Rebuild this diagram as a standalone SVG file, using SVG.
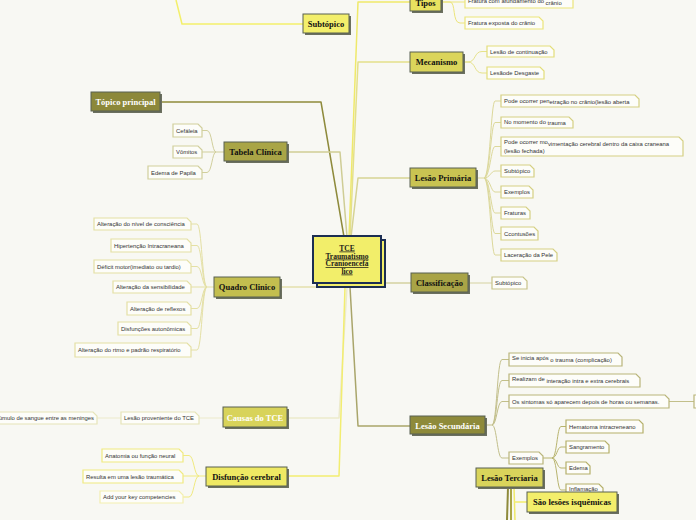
<svg xmlns="http://www.w3.org/2000/svg" width="696" height="520" viewBox="0 0 696 520">
<style>
.bg{fill:#f8f8f3}
.c{fill:none;stroke-width:1.5;stroke-linejoin:round}
.cs{fill:none;stroke-width:1}
.tb{stroke:#596052;stroke-width:1}
.sh{fill:#6c705f}
.tt{font-family:"Liberation Serif",serif;font-weight:bold;font-size:8.5px;text-anchor:middle;fill:#111}
.tw{fill:#fff}
.sb{fill:#fdfdf9;stroke-width:1.2}
.st{font-family:"Liberation Sans",Arial,sans-serif;font-size:5.9px;fill:#333}
.ct{font-family:"Liberation Serif",serif;font-weight:bold;font-size:7.5px;text-anchor:middle;fill:#1a1a1a;text-decoration:underline}
</style>
<rect class="bg" x="0" y="0" width="696" height="520"/>

<g id="connectors">
  <path class="c" d="M349,237 L358,2 L410,2" stroke="#efe96a"/>
  <path class="c" d="M350,237 L358,62 L410,62" stroke="#e4e08a"/>
  <path class="c" d="M351,237 L358,178 L410,178" stroke="#d6d394"/>
  <path class="c" d="M160,102 L321,102 L344,237" stroke="#8e8a3b"/>
  <path class="c" d="M287,152 L340,152 L347,237" stroke="#cfcd95"/>
  <path class="c" d="M280,287 L317,287" stroke="#e4e1ac"/>
  <path class="c" d="M385,283 L411,283" stroke="#d5d2a0"/>
  <path class="c" d="M350,287 L358,426 L410,426" stroke="#a9a56a"/>
  <path class="c" d="M347,287 L339,418 L287,418" stroke="#eceacb"/>
  <path class="c" d="M345,287 L339,476 L287,476" stroke="#f2ed70"/>
  <path class="c" d="M303,24 L182,24 L176,0" stroke="#f3ef6b"/>
  <path d="M508,487 L507,520" stroke="#8e8a3b" stroke-width="2" fill="none"/>
  <path d="M511,487 L511,520" stroke="#a9a546" stroke-width="2" fill="none"/>
  <path d="M514,487 L515,520" stroke="#efe96a" stroke-width="1.5" fill="none"/>
  <path d="M514,502 L527,502" stroke="#f3ee6b" stroke-width="1.5" fill="none"/>
  <g stroke="#ece57a" class="cs">
    <path d="M441,2 H465"/>
    <path d="M441,2 H450 C456,2 452,23 460,23 H465"/>
  </g>
  <g stroke="#e6e28a" class="cs">
    <path d="M463,62 H468 C476,62 474,51.5 482,51.5 H487"/>
    <path d="M463,62 H468 C476,62 474,73 482,73 H487"/>
  </g>
  <g stroke="#dcd89a" class="cs">
    <path d="M476,178 H484 C490,178 491,101 495,101 H501"/>
    <path d="M484,178 C490,178 491,122.5 495,122.5 H501"/>
    <path d="M484,178 C490,178 491,146.5 495,146.5 H501"/>
    <path d="M484,178 C490,178 491,171 495,171 H501"/>
    <path d="M484,178 C490,178 491,192 495,192 H501"/>
    <path d="M484,178 C490,178 491,213 495,213 H501"/>
    <path d="M484,178 C490,178 491,233.5 495,233.5 H501"/>
    <path d="M484,178 C490,178 491,255 495,255 H501"/>
  </g>
  <path class="cs" d="M468,283 H492" stroke="#d5d2a0"/>
  <g stroke="#c2bf8a" class="cs">
    <path d="M485,425 H492 C497,425 497,359.5 502,359.5 H509"/>
    <path d="M492,425 C497,425 497,380.5 502,380.5 H509"/>
    <path d="M492,425 C497,425 497,401.5 502,401.5 H509"/>
    <path d="M492,425 C497,425 497,458 502,458 H509"/>
    <path d="M669,401.5 H694"/>
  </g>
  <g stroke="#b8b46e" class="cs">
    <path d="M543,458 H552 C557,458 557,426.5 561,426.5 H566"/>
    <path d="M552,458 C557,458 557,447 561,447 H566"/>
    <path d="M552,458 C557,458 557,468 561,468 H566"/>
    <path d="M552,458 C557,458 557,490 561,490 H566"/>
  </g>
  <g stroke="#d1cf9c" class="cs">
    <path d="M224,152 H216 C212,152 212,130.5 207,130.5 H202"/>
    <path d="M216,152 H202"/>
    <path d="M216,152 C212,152 212,172.5 207,172.5 H202"/>
  </g>
  <g stroke="#e4e0a4" class="cs">
    <path d="M214,287 H207 C202,287 202,224 197,224 H191"/>
    <path d="M207,287 C202,287 202,245.5 197,245.5 H191"/>
    <path d="M207,287 C202,287 202,266.5 197,266.5 H191"/>
    <path d="M207,287 H191"/>
    <path d="M207,287 C202,287 202,308.5 197,308.5 H191"/>
    <path d="M207,287 C202,287 202,328.5 197,328.5 H191"/>
    <path d="M207,287 C202,287 202,350 197,350 H191"/>
  </g>
  <g stroke="#eceacb" class="cs">
    <path d="M223,418 H199"/>
    <path d="M121,418 H97"/>
  </g>
  <g stroke="#f0ea80" class="cs">
    <path d="M206,476 H199 C194,476 194,455.5 189,455.5 H183"/>
    <path d="M199,476 H183"/>
    <path d="M199,476 C194,476 194,497 189,497 H183"/>
  </g>
</g>

<g id="center">
  <rect x="317" y="240" width="68" height="47" fill="#f2ee6a" stroke="#1c2e52" stroke-width="2"/>
  <rect x="313" y="236" width="68" height="47" fill="#f2ee6a" stroke="#1c2e52" stroke-width="2"/>
  <text class="ct" x="347" y="250.5">TCE</text>
  <text class="ct" x="347" y="258.5">Traumatismo</text>
  <text class="ct" x="347" y="266">Cranioencefá</text>
  <text class="ct" x="347" y="273.5">lico</text>
</g>

<g id="n-subtopico-top"><rect class="sh" x="305" y="16" width="46" height="19"/><rect class="tb" x="303" y="14" width="46" height="19" fill="#f3ef6b"/><text class="tt" x="326" y="27">Subtópico</text></g>
<g id="n-tipos"><rect class="sh" x="412" y="-5" width="31" height="18"/><rect class="tb" x="410" y="-7" width="31" height="18" fill="#e8e25f"/><text class="tt" x="425.5" y="6">Tipos</text></g>
<g id="n-mecanismo"><rect class="sh" x="412" y="54" width="53" height="20"/><rect class="tb" x="410" y="52" width="53" height="20" fill="#dbd55b"/><text class="tt" x="436.5" y="65">Mecanismo</text></g>
<g id="n-lesao-primaria"><rect class="sh" x="412" y="170" width="66" height="19"/><rect class="tb" x="410" y="168" width="66" height="19" fill="#c9c352"/><text class="tt" x="443" y="181">Lesão Primária</text></g>
<g id="n-classificacao"><rect class="sh" x="413" y="275" width="57" height="19"/><rect class="tb" x="411" y="273" width="57" height="19" fill="#a9a446"/><text class="tt" x="439.5" y="286">Classificação</text></g>
<g id="n-lesao-secundaria"><rect class="sh" x="412" y="418" width="75" height="18"/><rect class="tb" x="410" y="416" width="75" height="18" fill="#8e8a3a"/><text class="tt tw" x="447.5" y="428.5">Lesão Secundária</text></g>
<g id="n-topico-principal"><rect class="sh" x="93" y="94" width="69" height="19"/><rect class="tb" x="91" y="92" width="69" height="19" fill="#8c883a"/><text class="tt tw" x="125.5" y="105">Tópico principal</text></g>
<g id="n-tabela"><rect class="sh" x="226" y="144" width="63" height="19"/><rect class="tb" x="224" y="142" width="63" height="19" fill="#a9a546"/><text class="tt" x="255.5" y="155">Tabela Clínica</text></g>
<g id="n-quadro"><rect class="sh" x="216" y="279" width="66" height="20"/><rect class="tb" x="214" y="277" width="66" height="20" fill="#c3be4f"/><text class="tt" x="247" y="290">Quadro Clinico</text></g>
<g id="n-causas"><rect class="sh" x="225" y="409" width="64" height="20"/><rect class="tb" x="223" y="407" width="64" height="20" fill="#d8d35a"/><text class="tt tw" x="255" y="420.5">Causas do TCE</text></g>
<g id="n-disfuncao"><rect class="sh" x="208" y="469" width="81" height="19"/><rect class="tb" x="206" y="467" width="81" height="19" fill="#efe963"/><text class="tt" x="246.5" y="480">Disfunção cerebral</text></g>

<g id="s-tipos-1"><path class="sb" stroke="#ece57a" d="M465,-5 H569 L573,-1 V8 H465 Z"/><text class="st" x="468" y="3">Fratura com afundamento do <tspan dy="2">crânio</tspan></text></g>
<g id="s-tipos-2"><path class="sb" stroke="#ece57a" d="M465,17 H539 L543,21 V29 H465 Z"/><text class="st" x="468" y="25">Fratura exposta do crânio</text></g>
<g id="s-mec-1"><path class="sb" stroke="#e3de7a" d="M487,46 H550 L554,50 V57 H487 Z"/><text class="st" x="490" y="53.5">Lesão de continuação</text></g>
<g id="s-mec-2"><path class="sb" stroke="#e3de7a" d="M487,67 H540 L544,71 V79 H487 Z"/><text class="st" x="490" y="75">Lesãode Desgaste</text></g>

<g id="s-lp-1"><path class="sb" stroke="#d5d083" d="M501,95 H635 L639,99 V107 H501 Z"/><text class="st" x="504" y="102.5">Pode ocorrer pen<tspan dy="1.5">etração no crânio(lesão aberta</tspan></text></g>
<g id="s-lp-2"><path class="sb" stroke="#d5d083" d="M501,117 H569 L573,121 V128 H501 Z"/><text class="st" x="504" y="123.5">No momento do <tspan dy="1.5">trauma</tspan></text></g>
<g id="s-lp-3"><path class="sb" stroke="#d5d083" d="M501,137 H679 L683,141 V156 H501 Z"/><text class="st" x="504" y="144">Pode ocorrer mo<tspan dy="1.5">vimentação cerebral dentro da caixa craneana</tspan></text><text class="st" x="504" y="152.5">(lesão fechada)</text></g>
<g id="s-lp-4"><path class="sb" stroke="#d5d083" d="M501,165 H530 L534,169 V177 H501 Z"/><text class="st" x="504" y="173">Subtópico</text></g>
<g id="s-lp-5"><path class="sb" stroke="#d5d083" d="M501,186 H529 L533,190 V198 H501 Z"/><text class="st" x="504" y="194">Exemplos</text></g>
<g id="s-lp-6"><path class="sb" stroke="#d5d083" d="M501,207 H526 L530,211 V219 H501 Z"/><text class="st" x="504" y="215">Fraturas</text></g>
<g id="s-lp-7"><path class="sb" stroke="#d5d083" d="M501,227 H534 L538,231 V240 H501 Z"/><text class="st" x="504" y="235.5">Ccontusões</text></g>
<g id="s-lp-8"><path class="sb" stroke="#d5d083" d="M501,249 H553 L557,253 V261 H501 Z"/><text class="st" x="504" y="257">Laceração da Pele</text></g>

<g id="s-class-1"><path class="sb" stroke="#c8c48a" d="M492,277 H523 L527,281 V289 H492 Z"/><text class="st" x="495" y="285">Subtópico</text></g>

<g id="s-ls-1"><path class="sb" stroke="#b9b57a" d="M509,353 H618 L622,357 V366 H509 Z"/><text class="st" x="512" y="360">Se inicia após <tspan dy="1.5">o trauma (complicação)</tspan></text></g>
<g id="s-ls-2"><path class="sb" stroke="#b9b57a" d="M509,374 H636 L640,378 V387 H509 Z"/><text class="st" x="512" y="381">Realizam de <tspan dy="1.5">interação intra e extra cerebrais</tspan></text></g>
<g id="s-ls-3"><path class="sb" stroke="#b9b57a" d="M509,395 H665 L669,399 V408 H509 Z"/><text class="st" x="512" y="403.5">Os sintomas só aparecem depois de horas ou semanas.</text></g>
<g id="s-ls-3a"><path class="sb" stroke="#b9b57a" d="M694,395 H730 L734,399 V408 H694 Z"/></g>
<g id="s-ls-4"><path class="sb" stroke="#b9b57a" d="M509,452 H539 L543,456 V464 H509 Z"/><text class="st" x="512" y="460">Exemplos</text></g>
<g id="s-ex-1"><path class="sb" stroke="#b5b06a" d="M566,420 H639 L643,424 V433 H566 Z"/><text class="st" x="569" y="428.5">Hematoma intracreneano</text></g>
<g id="s-ex-2"><path class="sb" stroke="#b5b06a" d="M566,441 H605 L609,445 V453 H566 Z"/><text class="st" x="569" y="449">Sangramento</text></g>
<g id="s-ex-3"><path class="sb" stroke="#b5b06a" d="M566,462 H586 L590,466 V474 H566 Z"/><text class="st" x="569" y="470">Edema</text></g>
<g id="s-ex-4"><path class="sb" stroke="#b5b06a" d="M566,484 H599 L603,488 V496 H566 Z"/><text class="st" x="569" y="491">Inflamação</text></g>

<g id="s-tab-1"><path class="sb" stroke="#d1cf9c" d="M173,124 H198 L202,128 V137 H173 Z"/><text class="st" x="176" y="132.5">Cefáleia</text></g>
<g id="s-tab-2"><path class="sb" stroke="#d1cf9c" d="M173,146 H198 L202,150 V158 H173 Z"/><text class="st" x="176" y="154">Vômitos</text></g>
<g id="s-tab-3"><path class="sb" stroke="#d1cf9c" d="M148,166 H198 L202,170 V179 H148 Z"/><text class="st" x="151" y="174.5">Edema de Papila</text></g>

<g id="s-qc-1"><path class="sb" stroke="#e4e0a4" d="M94,218 H187 L191,222 V230 H94 Z"/><text class="st" x="97" y="226">Alteração do nível de consciência</text></g>
<g id="s-qc-2"><path class="sb" stroke="#e4e0a4" d="M111,239 H187 L191,243 V252 H111 Z"/><text class="st" x="114" y="247.5">Hipertenção Intracraneana</text></g>
<g id="s-qc-3"><path class="sb" stroke="#e4e0a4" d="M94,260 H187 L191,264 V273 H94 Z"/><text class="st" x="97" y="268.5">Déficit motor(imediato ou tardio)</text></g>
<g id="s-qc-4"><path class="sb" stroke="#e4e0a4" d="M113,281 H187 L191,285 V293 H113 Z"/><text class="st" x="116" y="289">Alteração da sensibilidade</text></g>
<g id="s-qc-5"><path class="sb" stroke="#e4e0a4" d="M127,302 H187 L191,306 V315 H127 Z"/><text class="st" x="130" y="310.5">Alteração de reflexos</text></g>
<g id="s-qc-6"><path class="sb" stroke="#e4e0a4" d="M118,322 H187 L191,326 V335 H118 Z"/><text class="st" x="121" y="330.5">Disfunções autonômicas</text></g>
<g id="s-qc-7"><path class="sb" stroke="#e4e0a4" d="M75,343 H187 L191,347 V357 H75 Z"/><text class="st" x="78" y="352">Alteração do rtmo e padrão respiratório</text></g>

<g id="s-ca-1"><path class="sb" stroke="#e6e4b8" d="M121,412 H195 L199,416 V424 H121 Z"/><text class="st" x="124" y="420">Lesão proveniente do TCE</text></g>
<g id="s-ca-2"><path class="sb" stroke="#e6e4b8" d="M-30,412 H93 L97,416 V424 H-30 Z"/><text class="st" x="94" y="420" text-anchor="end">Acúmulo de sangue entre as meninges</text></g>

<g id="s-df-1"><path class="sb" stroke="#f0ea80" d="M102,449 H179 L183,453 V462 H102 Z"/><text class="st" x="105" y="457.5">Anatomia ou função neural</text></g>
<g id="s-df-2"><path class="sb" stroke="#f0ea80" d="M83,470 H179 L183,474 V483 H83 Z"/><text class="st" x="86" y="478.5">Resulta em uma lesão traumática</text></g>
<g id="s-df-3"><path class="sb" stroke="#f3efb0" d="M100,491 H179 L183,495 V503 H100 Z"/><text class="st" x="103" y="499" fill="#b0b0b0">Add your key competencies</text></g>

<g id="n-lesao-terciaria"><rect class="sh" x="478" y="470" width="67" height="19"/><rect class="tb" x="476" y="468" width="67" height="19" fill="#d9d45b"/><text class="tt" x="509.5" y="481">Lesão Terciaria</text></g>
<g id="n-sao-lesoes"><rect class="sh" x="529" y="494" width="90" height="20"/><rect class="tb" x="527" y="492" width="90" height="20" fill="#f3ee6b"/><text class="tt" x="572" y="505">São lesões isquêmicas</text></g>
</svg>
